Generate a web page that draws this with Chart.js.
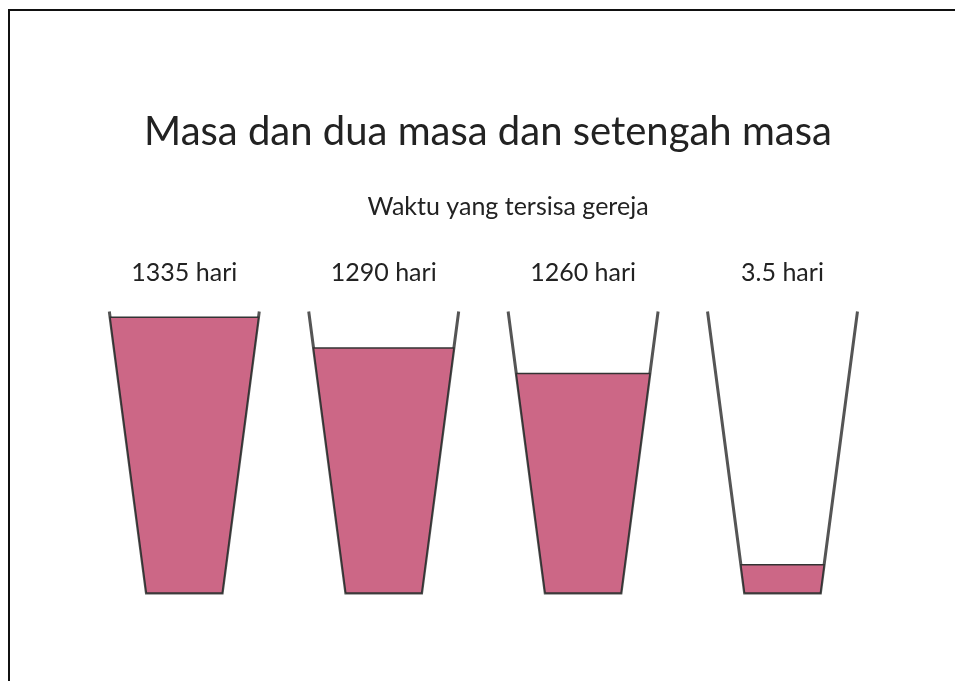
<!DOCTYPE html>
<html>
<head>
<meta charset="utf-8">
<script src="https://cdn.jsdelivr.net/npm/chart.js@4.4.1/dist/chart.umd.min.js"></script>
<style>
  html, body { margin: 0; padding: 0; background: #fff; }
  #wrap { position: relative; width: 955px; height: 681px; overflow: hidden; }
  #frame { position: absolute; left: 8px; top: 9px; right: -4px; bottom: -4px;
           border-top: 2px solid #111; border-left: 2px solid #111; }
  #glasses { position: absolute; left: 0; top: 0; }
</style>
</head>
<body>
<div id="wrap">
  <div id="frame"></div>
  <canvas id="glasses" width="955" height="681"></canvas>
</div>
<script>
// Gelas "waktu tersisa": tiap gelas satu periode, isinya = sisa waktu.

const TITLE = 'Masa dan dua masa dan setengah masa';
const SUBTITLE = 'Waktu yang tersisa gereja';
const periods = [1335, 1290, 1260, 3.5];
const unit = 'hari';
const fillLevels = [0.98, 0.87, 0.78, 0.10];   // bagian tinggi gelas yang terisi

const FONT = 'Lato, "DejaVu Sans", sans-serif';
const INK = '#222222';
const GLASS_COLOR = '#555555';
const LIQUID_COLOR = '#cc6786';
const LIQUID_EDGE = '#333333';

// bentuk gelas dalam satuan skala (jarak antar gelas = 1, tinggi gelas = 1)
const TOP_HALF = 0.376;
const BOTTOM_HALF = 0.19;

const labels = periods.map((p) => `${p} ${unit}`);

function glassOutline(i) {
  return [
    { x: i - TOP_HALF, y: 1 },
    { x: i - BOTTOM_HALF, y: 0 },
    { x: i + BOTTOM_HALF, y: 0 },
    { x: i + TOP_HALF, y: 1 },
  ];
}

function liquidShape(i, level) {
  const half = BOTTOM_HALF + (TOP_HALF - BOTTOM_HALF) * level;
  return [
    { x: i - BOTTOM_HALF, y: 0 },
    { x: i - half, y: level },
    { x: i + half, y: level },
    { x: i + BOTTOM_HALF, y: 0 },
    { x: i - BOTTOM_HALF, y: 0 },
  ];
}

const glassSets = periods.map((_, i) => ({
  data: glassOutline(i),
  borderColor: GLASS_COLOR,
  borderWidth: 3,
  borderJoinStyle: 'miter',
  pointRadius: 0,
  fill: false,
  clip: false,
  order: 2,
}));

const liquidSets = fillLevels.map((level, i) => ({
  data: liquidShape(i, level),
  borderColor: LIQUID_EDGE,
  borderWidth: 1.5,
  borderJoinStyle: 'miter',
  backgroundColor: LIQUID_COLOR,
  pointRadius: 0,
  fill: 'shape',
  clip: false,
  order: 1,
}));

const headingPlugin = {
  id: 'heading',
  afterDraw(chart) {
    const { ctx } = chart;
    ctx.save();
    ctx.fillStyle = INK;
    ctx.textAlign = 'center';
    ctx.textBaseline = 'alphabetic';
    ctx.font = `40px ${FONT}`;
    ctx.fillText(TITLE, 488, 145);
    ctx.font = `25px ${FONT}`;
    ctx.fillText(SUBTITLE, 508, 215);
    ctx.restore();
  },
};

new Chart(document.getElementById('glasses'), {
  type: 'line',
  data: { datasets: [...liquidSets, ...glassSets] },
  plugins: [headingPlugin],
  options: {
    responsive: false,
    animation: false,
    events: [],
    layout: { padding: { top: 233.5, bottom: 88, left: 84.6, right: 72.8 } },
    plugins: {
      legend: { display: false },
      tooltip: { enabled: false },
    },
    scales: {
      x: {
        type: 'linear',
        position: 'top',
        min: -0.5,
        max: 3.5,
        grid: { display: false, drawTicks: false },
        border: { display: false },
        afterBuildTicks: (axis) => { axis.ticks = periods.map((_, i) => ({ value: i })); },
        ticks: {
          padding: 24,
          color: INK,
          font: { family: FONT, size: 25 },
          maxRotation: 0,
          callback: (value, index) => labels[index],
        },
      },
      y: {
        display: false,
        min: 0,
        max: 1,
      },
    },
  },
});
</script>
</body>
</html>
